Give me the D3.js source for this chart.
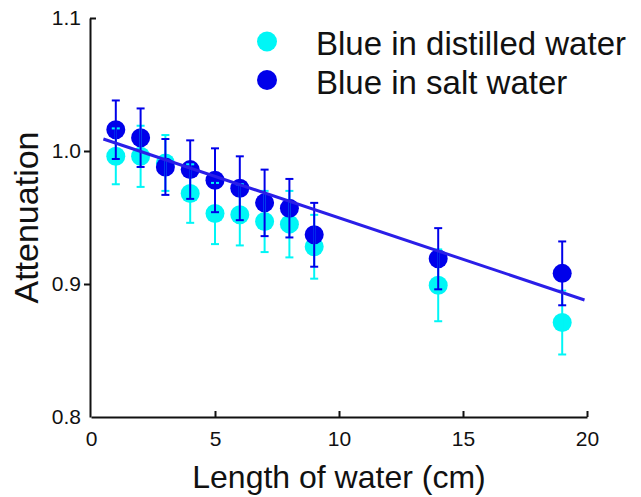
<!DOCTYPE html>
<html>
<head>
<meta charset="utf-8">
<script src="https://cdn.jsdelivr.net/npm/d3@7"></script>
<style>
  body { margin: 0; background: #fff; }
  svg { display: block; font-family: "Liberation Sans", Arial, sans-serif; }
</style>
</head>
<body>
<div id="chart"></div>
<script>
// data
var lengths = [1, 2, 3, 4, 5, 6, 7, 8, 9, 14, 19];
var distilled = [0.996, 0.996, 0.991, 0.968, 0.953, 0.952, 0.947, 0.945, 0.928, 0.899, 0.871];
var distilledErr = [0.021, 0.023, 0.021, 0.022, 0.023, 0.023, 0.023, 0.025, 0.024, 0.027, 0.024];
var salt = [1.016, 1.010, 0.988, 0.986, 0.978, 0.972, 0.961, 0.957, 0.937, 0.919, 0.908];
var saltErr = [0.022, 0.022, 0.021, 0.022, 0.024, 0.024, 0.025, 0.022, 0.024, 0.023, 0.024];
var fitX = [0.5, 19.9];
var fitY = [1.009, 0.888];
var xTicks = [0, 5, 10, 15, 20];
var yTicks = [0.8, 0.9, 1.0, 1.1];
var seriesNames = ["Blue in distilled water", "Blue in salt water"];

var svgWidth = 641;
var svgHeight = 497;

var margin = {
  top: 18,
  right: 54,
  bottom: 80,
  left: 91
};

var width = svgWidth - margin.left - margin.right;
var height = svgHeight - margin.top - margin.bottom;

var cyan = "#00f6f6";
var navy = "#0000ea";
var fitColor = "#2a1ee8";

var svg = d3.select("#chart")
  .append("svg")
  .attr("width", svgWidth)
  .attr("height", svgHeight);

var chartGroup = svg.append("g")
  .attr("transform", `translate(${margin.left}, ${margin.top})`);

// scales
var xScale = d3.scaleLinear().domain([0, 20]).range([0, width]);
var yScale = d3.scaleLinear().domain([0.8, 1.1]).range([height, 0]);

// axes
var leftAxis = d3.axisLeft(yScale)
  .tickValues(yTicks)
  .tickFormat(d3.format(".1f"))
  .tickSizeInner(6)
  .tickSizeOuter(0)
  .tickPadding(3);

var bottomAxis = d3.axisBottom(xScale)
  .tickValues(xTicks)
  .tickSizeInner(-6)
  .tickSizeOuter(0)
  .tickPadding(14);

var yAxisG = chartGroup.append("g")
  .attr("transform", "translate(-1, 0)")
  .call(leftAxis);

var xAxisG = chartGroup.append("g")
  .attr("transform", `translate(0, ${height})`)
  .call(bottomAxis);

[yAxisG, xAxisG].forEach(function(g) {
  g.select(".domain").attr("stroke", "#111").attr("stroke-width", 2);
  g.selectAll(".tick line").attr("stroke", "#111").attr("stroke-width", 2);
  g.selectAll(".tick text")
    .attr("fill", "#111")
    .style("font-size", "21px")
    .style("font-family", "'Liberation Sans', Arial, sans-serif");
});
// top tick points into the plot, bottom one is the corner
yAxisG.selectAll(".tick").filter(d => d === 1.1).select("line").attr("x2", 6);
yAxisG.selectAll(".tick").filter(d => d === 0.8).select("line").remove();
xAxisG.selectAll(".tick").filter(d => d === 0).select("line").remove();

// circles
var points = lengths.map(function(l, i) {
  return { x: l, d: distilled[i], de: distilledErr[i], s: salt[i], se: saltErr[i] };
});

chartGroup.selectAll(".dot-d")
  .data(points)
  .enter()
  .append("circle")
  .attr("cx", d => xScale(d.x))
  .attr("cy", d => yScale(d.d))
  .attr("r", 9.5)
  .attr("fill", cyan);

chartGroup.selectAll(".dot-s")
  .data(points)
  .enter()
  .append("circle")
  .attr("cx", d => xScale(d.x))
  .attr("cy", d => yScale(d.s))
  .attr("r", 9.5)
  .attr("fill", navy);

// error bars
function errorBars(key, errKey, color) {
  var g = chartGroup.append("g")
    .attr("stroke", color)
    .attr("stroke-width", 2);
  points.forEach(function(p) {
    var cx = xScale(p.x);
    var top = yScale(p[key] + p[errKey]);
    var bot = yScale(p[key] - p[errKey]);
    g.append("line").attr("x1", cx).attr("x2", cx).attr("y1", top).attr("y2", bot);
    g.append("line").attr("x1", cx - 4).attr("x2", cx + 4).attr("y1", top).attr("y2", top);
    g.append("line").attr("x1", cx - 4).attr("x2", cx + 4).attr("y1", bot).attr("y2", bot);
  });
}
errorBars("d", "de", cyan);
errorBars("s", "se", navy);

// fitted line
var fitData = fitX.map((x, i) => [x, fitY[i]]);
chartGroup.append("path")
  .datum(fitData)
  .attr("fill", "none")
  .attr("stroke", fitColor)
  .attr("stroke-width", 3)
  .attr("d", d3.line().x(d => xScale(d[0])).y(d => yScale(d[1])));

// axis labels
chartGroup.append("text")
  .attr("transform", "rotate(-90)")
  .attr("x", 0 - (height / 2))
  .attr("y", 38 - margin.left)
  .attr("text-anchor", "middle")
  .attr("fill", "#111")
  .style("font-size", "34px")
  .text("Attenuation");

chartGroup.append("text")
  .attr("x", width / 2)
  .attr("y", height + 71)
  .attr("text-anchor", "middle")
  .attr("fill", "#111")
  .style("font-size", "32px")
  .text("Length of water (cm)");

// legend
var legend = svg.append("g");
[cyan, navy].forEach(function(c, i) {
  legend.append("circle")
    .attr("cx", 267)
    .attr("cy", 41.5 + i * 38.5)
    .attr("r", 10)
    .attr("fill", c);
  legend.append("text")
    .attr("x", 316)
    .attr("y", 55 + i * 38.5)
    .attr("fill", "#111")
    .style("font-size", "33px")
    .text(seriesNames[i]);
});
</script>
</body>
</html>
